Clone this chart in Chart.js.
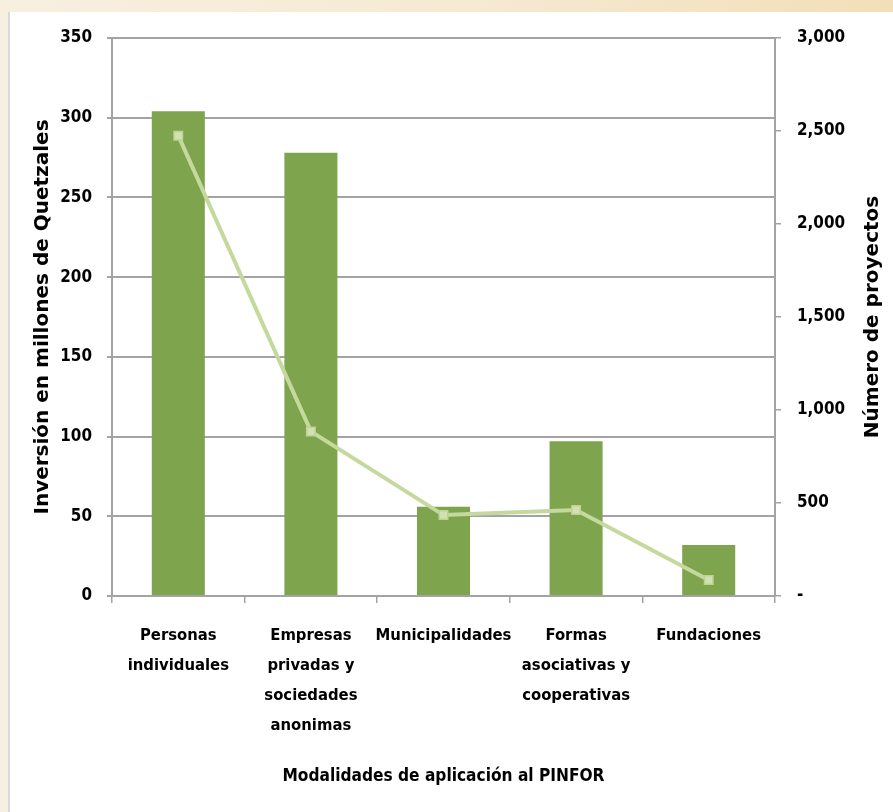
<!DOCTYPE html>
<html>
<head>
<meta charset="utf-8">
<script src="https://cdn.jsdelivr.net/npm/chart.js@4.4.0/dist/chart.umd.min.js"></script>
<style>
  html, body { margin:0; padding:0; }
  body { width:893px; height:812px; overflow:hidden; position:relative;
         background: linear-gradient(to right, #f7efe0 0%, #f6ead3 50%, #f1dfb8 100%); }
  #panel { position:absolute; left:8px; top:12px; right:0; bottom:0; background:#ffffff;
           border-left:2px solid #d9d9d9; }
  #wrap { position:absolute; left:0; top:0; width:893px; height:812px; }
</style>
</head>
<body>
<div id="panel"></div>
<div id="wrap"><canvas id="c" width="893" height="812"></canvas></div>
<script>
const categories = [
  ["Personas", "individuales"],
  ["Empresas", "privadas y", "sociedades", "anonimas"],
  ["Municipalidades"],
  ["Formas", "asociativas y", "cooperativas"],
  ["Fundaciones"]
];
const inversion = [304, 278, 56, 97, 32];
const proyectos = [2475, 885, 435, 462, 86];
const leftTitle = "Inversión en millones de Quetzales";
const rightTitle = "Número de proyectos";
const xTitle = "Modalidades de aplicación al PINFOR";

const gridColor = '#a3a3a3';

// pick a condensed family if one is installed, then fit size to the reference text widths
const mctx = document.createElement('canvas').getContext('2d');
function widthOf(text, fam, size) { mctx.font = 'bold ' + size + 'px ' + fam; return mctx.measureText(text).width; }
function available(fam) {
  return widthOf('Municipalidades 0123', "'" + fam + "', monospace", 20) !== widthOf('Municipalidades 0123', 'monospace', 20);
}
let family = "'Liberation Sans', sans-serif";
for (const f of ['Liberation Sans Narrow', 'DejaVu Sans Condensed', 'Arial Narrow', 'Roboto Condensed', 'Open Sans Condensed']) {
  if (available(f)) { family = "'" + f + "', 'Liberation Sans', sans-serif"; break; }
}
const labelSize = Math.min(22, 1.07 * 20 * 127 / widthOf('Municipalidades', family, 20));
const titleSize = Math.min(23, 1.04 * 20 * 310 / widthOf(xTitle, family, 20));
const numSize = Math.min(22, 1.12 * 20 * 43 / widthOf('3,000', family, 20));

const rightTitlePlugin = {
  id: 'rightTitle',
  afterDraw(chart) {
    const ctx = chart.ctx;
    const ca = chart.chartArea;
    ctx.save();
    ctx.translate(873, (ca.top + ca.bottom) / 2);
    ctx.rotate(-Math.PI / 2);
    ctx.font = "bold 20px 'DejaVu Sans', sans-serif";
    ctx.fillStyle = '#000';
    ctx.textAlign = 'center';
    ctx.textBaseline = 'middle';
    ctx.fillText(rightTitle, 0, 0);
    ctx.restore();
  }
};

new Chart(document.getElementById('c'), {
  data: {
    labels: categories,
    datasets: [
      {
        type: 'line',
        label: rightTitle,
        data: proyectos,
        yAxisID: 'y1',
        borderColor: '#c5d89e',
        borderWidth: 4,
        pointStyle: 'rect',
        pointRadius: 6,
        pointBackgroundColor: '#d2e1b2',
        pointBorderColor: '#bed293',
        pointBorderWidth: 1.5,
        tension: 0,
        order: 0
      },
      {
        type: 'bar',
        label: leftTitle,
        data: inversion,
        yAxisID: 'y',
        backgroundColor: '#7fa44e',
        barPercentage: 0.4,
        categoryPercentage: 1.0,
        order: 1
      }
    ]
  },
  options: {
    responsive: false,
    animation: false,
    devicePixelRatio: 1,
    layout: { padding: { top: 38, left: 0, right: 0, bottom: 0 } },
    plugins: { legend: { display: false }, tooltip: { enabled: false } },
    scales: {
      x: {
        position: 'bottom',
        afterFit(scale) { scale.height = 216; },
        grid: { offset: true, drawOnChartArea: false, tickLength: 7, color: gridColor, lineWidth: 1.5 },
        border: { color: gridColor, width: 2 },
        ticks: { color: '#000', font: { family: family, weight: 'bold', size: labelSize, lineHeight: '30px' }, padding: 18, maxRotation: 0, autoSkip: false },
        title: {
          display: true, text: xTitle, color: '#000',
          font: { family: family, weight: 'bold', size: titleSize },
          padding: { top: 0, bottom: 25 }
        }
      },
      y: {
        position: 'left',
        min: 0, max: 350,
        afterFit(scale) { scale.width = 112; },
        grid: { color: gridColor, lineWidth: 2, tickLength: 5 },
        border: { color: gridColor, width: 2 },
        ticks: { stepSize: 50, color: '#000', font: { family: family, weight: 'bold', size: numSize }, padding: 15 },
        title: {
          display: true, text: leftTitle, color: '#000',
          font: { family: "'DejaVu Sans', sans-serif", weight: 'bold', size: 20 },
          padding: { top: 31, bottom: 0 }
        }
      },
      y1: {
        position: 'right',
        min: 0, max: 3000,
        afterFit(scale) { scale.width = 118; },
        grid: { drawOnChartArea: false, color: gridColor, lineWidth: 1.5, tickLength: 6 },
        border: { color: gridColor, width: 2 },
        ticks: {
          stepSize: 500, color: '#000', font: { family: family, weight: 'bold', size: numSize }, padding: 16,
          callback: (v) => v === 0 ? '-' : v.toLocaleString('en-US')
        }
      }
    }
  },
  plugins: [rightTitlePlugin]
});
</script>
</body>
</html>
